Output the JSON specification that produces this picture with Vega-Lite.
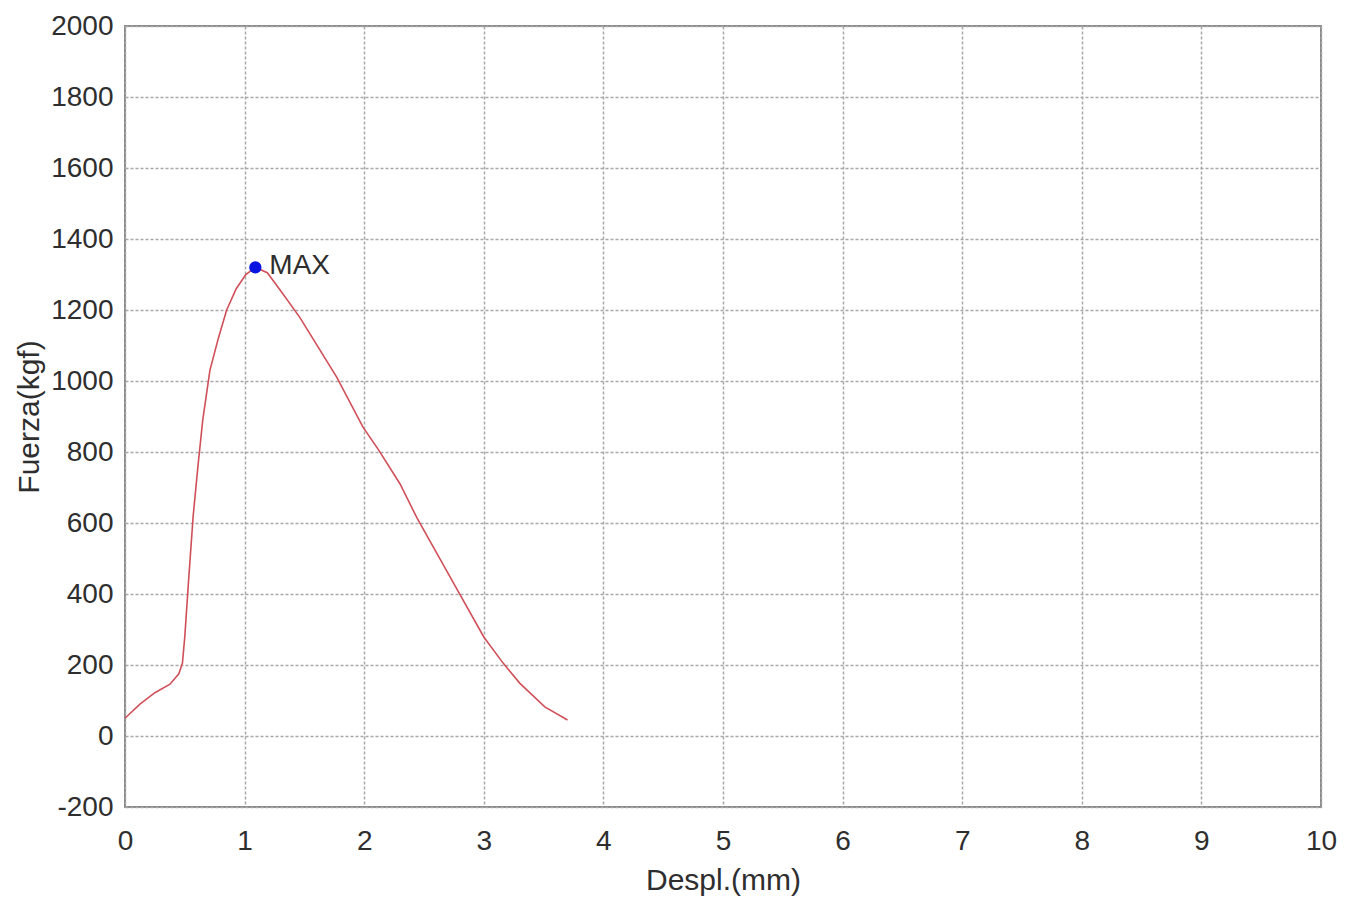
{
  "$schema": "https://vega.github.io/schema/vega-lite/v6.json",
  "width": 1196,
  "height": 781,
  "autosize": {"type": "none"},
  "padding": {"left": 125, "top": 26, "right": 31, "bottom": 96},
  "background": "white",
  "config": {
    "font": "Liberation Sans",
    "view": {"stroke": "#8a8a8a", "strokeWidth": 2},
    "axis": {
      "domain": false,
      "ticks": false,
      "grid": true,
      "gridColor": "#a8a8a8",
      "gridDash": [3, 2],
      "gridWidth": 1.5,
      "labelFont": "Liberation Sans",
      "labelFontSize": 28,
      "labelColor": "#2e2e2e",
      "labelFlush": false,
      "labelOverlap": false,
      "labelExpr": "datum.value + ''",
      "titleFont": "Liberation Sans",
      "titleFontSize": 30,
      "titleFontWeight": "normal",
      "titleColor": "#2e2e2e"
    }
  },
  "datasets": {
    "curve": [
      {"d": 0.0, "f": 50},
      {"d": 0.125, "f": 90},
      {"d": 0.25, "f": 122},
      {"d": 0.376, "f": 146},
      {"d": 0.45, "f": 175},
      {"d": 0.48, "f": 205},
      {"d": 0.50, "f": 280},
      {"d": 0.53, "f": 430},
      {"d": 0.57, "f": 620},
      {"d": 0.61, "f": 760},
      {"d": 0.65, "f": 890},
      {"d": 0.71, "f": 1030},
      {"d": 0.78, "f": 1120},
      {"d": 0.85, "f": 1200},
      {"d": 0.93, "f": 1260},
      {"d": 1.01, "f": 1300},
      {"d": 1.09, "f": 1320},
      {"d": 1.19, "f": 1305},
      {"d": 1.30, "f": 1255},
      {"d": 1.46, "f": 1180},
      {"d": 1.77, "f": 1011},
      {"d": 1.99, "f": 870},
      {"d": 2.12, "f": 806},
      {"d": 2.30, "f": 710},
      {"d": 2.44, "f": 615},
      {"d": 2.78, "f": 411},
      {"d": 3.0, "f": 279},
      {"d": 3.16, "f": 206},
      {"d": 3.30, "f": 149},
      {"d": 3.51, "f": 82},
      {"d": 3.70, "f": 45}
    ],
    "max": [{"d": 1.09, "f": 1320, "label": "MAX"}]
  },
  "layer": [
    {
      "data": {"name": "curve"},
      "mark": {"type": "line", "color": "#d0505a", "strokeWidth": 1.6},
      "encoding": {
        "x": {
          "field": "d", "type": "quantitative",
          "scale": {"domain": [0, 10], "nice": false, "zero": false},
          "axis": {"values": [0,1,2,3,4,5,6,7,8,9,10], "title": "Despl.(mm)", "labelPadding": 20, "titlePadding": 10}
        },
        "y": {
          "field": "f", "type": "quantitative",
          "scale": {"domain": [-200, 2000], "nice": false, "zero": false},
          "axis": {"values": [-200,0,200,400,600,800,1000,1200,1400,1600,1800,2000], "title": "Fuerza(kgf)", "labelPadding": 12, "titlePadding": 6}
        }
      }
    },
    {
      "data": {"name": "max"},
      "mark": {"type": "point", "filled": true, "color": "#0a14e0", "size": 150, "opacity": 1},
      "encoding": {
        "x": {"field": "d", "type": "quantitative"},
        "y": {"field": "f", "type": "quantitative"}
      }
    },
    {
      "data": {"name": "max"},
      "mark": {"type": "text", "align": "left", "baseline": "middle", "dx": 14, "dy": -1, "fontSize": 28, "color": "#2e2e2e", "font": "Liberation Sans"},
      "encoding": {
        "x": {"field": "d", "type": "quantitative"},
        "y": {"field": "f", "type": "quantitative"},
        "text": {"field": "label"}
      }
    }
  ]
}
